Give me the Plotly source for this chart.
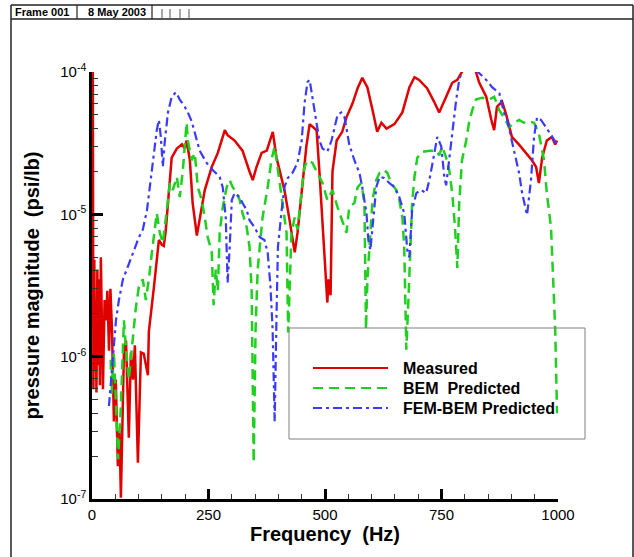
import plotly.graph_objects as go

# ---------------- data ----------------
measured_freq = [1, 1.5, 3, 5, 6.5, 8, 9.5, 11.5, 13, 15, 17, 19, 21.5, 23.5, 27, 30, 33, 36.5, 39.5, 43,
                 47, 51, 55.5, 59, 62, 65, 68.5, 73, 79, 83.5, 88, 92, 98.5, 105, 111, 120, 122, 133, 143.5,
                 150, 154, 158, 163, 171, 182, 193, 199, 203, 210, 216, 225, 231, 242, 257, 270, 285, 291,
                 306, 323, 338, 345, 353, 364, 375, 385, 388, 396, 403, 413, 424, 435, 441, 450, 460, 467,
                 482, 488, 499, 503, 505, 507.5, 512, 516, 525, 537, 546, 559, 570, 580, 591, 602, 612, 621,
                 632, 649, 666, 681, 692, 702, 719, 734, 745, 760, 773, 784, 792, 801, 814, 824, 831, 846,
                 857, 863, 869, 880, 889, 901, 916, 931, 944, 953, 959, 966, 976, 987, 994, 998]
measured_mag = [2e-3, 2.5e-6, 5.9e-7, 4.8e-6, 8.1e-7, 2.5e-6, 5.6e-7, 4.1e-6, 8.7e-7, 3.5e-6, 6.3e-7, 5.0e-6,
                1.3e-6, 5.9e-7, 2.5e-6, 1.8e-6, 2.9e-6, 1.1e-6, 3.0e-6, 1.5e-6,
                3.5e-7, 6.9e-7, 1.7e-7, 3.0e-7, 1.02e-7, 2.6e-7, 1.07e-6, 1.3e-6, 2.7e-7, 1.07e-6, 6.9e-7,
                1.2e-6, 1.8e-7, 1.07e-6, 1.05e-6, 7.4e-7, 1.5e-6, 3.1e-6, 6.6e-6,
                6.1e-6, 6.0e-6, 7.5e-6, 1.26e-5, 2.5e-5, 2.9e-5, 3.1e-5, 2.9e-5, 3.3e-5, 2.4e-5, 1.2e-5,
                7.1e-6, 9.1e-6, 1.48e-5, 2.15e-5, 2.7e-5, 3.9e-5, 3.6e-5,
                3.3e-5, 2.8e-5, 2.0e-5, 1.74e-5, 2.15e-5, 2.7e-5, 2.8e-5, 3.5e-5, 3.8e-5, 2.5e-5, 2.0e-5,
                1.48e-5, 9.1e-6, 5.4e-6, 7.4e-6, 1.41e-5, 3.0e-5, 4.3e-5,
                3.9e-5, 2.0e-5, 5.4e-6, 2.9e-6, 2.4e-6, 3.5e-6, 2.7e-6, 2.0e-5, 3.3e-5, 3.8e-5, 4.8e-5,
                6.0e-5, 7.7e-5, 9.1e-5, 7.8e-5, 5.4e-5, 3.8e-5, 4.4e-5,
                4.0e-5, 4.3e-5, 5.2e-5, 7.8e-5, 9.2e-5, 8.8e-5, 7.7e-5, 6.2e-5, 5.2e-5, 6.7e-5, 8.4e-5,
                8.8e-5, 9.8e-5, 1.1e-4, 1.15e-4, 1.0e-4, 8.4e-5, 6.7e-5,
                4.6e-5, 3.9e-5, 5.7e-5, 6.2e-5, 5.0e-5, 3.5e-5, 3.1e-5, 2.7e-5, 2.4e-5, 2.15e-5, 1.66e-5,
                2.5e-5, 3.3e-5, 3.5e-5, 3.1e-5, 3.3e-5]

bem_freq = [40, 42, 47, 51, 56, 62, 68.5, 73, 79, 88, 94, 100.6, 109, 115.6, 122, 128.5, 135, 139, 145.6,
            152, 160.6, 167, 173.5, 182, 188.4, 195, 203, 205.6, 214, 220.5, 227, 235.5, 242, 248.4, 257,
            261, 265.5, 270, 274, 280.5, 289, 295.5, 302, 310.5, 317, 323, 332, 338, 342.6, 347, 351,
            355.5, 360, 366, 377, 385, 392, 398, 407, 411, 417.5, 421, 424, 428, 435, 441, 450, 456,
            462.5, 473, 484, 494.6, 505, 516, 527, 537, 546, 552, 563, 570, 578, 584.6, 588, 591, 595,
            602, 610, 617, 627, 634, 642, 653, 659.5, 666, 670, 674.5, 679, 683, 687, 692, 698, 709, 724,
            739, 745, 751.6, 760, 766.6, 773, 779, 784, 788, 794, 803, 809, 816, 824, 837, 852, 863, 874,
            884, 895, 906, 916.5, 927, 938, 948.6, 959, 970, 976, 985, 989, 994, 998]
bem_mag = [9.5e-7, 5.5e-7, 1.07e-6, 5.0e-7, 1.9e-7, 4.5e-7, 1.8e-6, 1.12e-6, 6.9e-7, 1.38e-6, 2.2e-6,
           3.1e-6, 3.5e-6, 2.5e-6, 3.5e-6, 5.4e-6, 7.8e-6, 1.02e-5, 7.4e-6,
           6.3e-6, 1.07e-5, 1.66e-5, 1.48e-5, 1.83e-5, 1.32e-5, 2.05e-5, 4.4e-5, 3.3e-5, 2.4e-5, 2.7e-5,
           1.55e-5, 1.26e-5, 9.5e-6, 6.9e-6, 5.4e-6,
           2.3e-6, 4.1e-6, 2.9e-6, 7.4e-6, 1.12e-5, 1.55e-5, 1.74e-5, 1.55e-5, 1.41e-5, 1.26e-5, 1.02e-5,
           8.1e-6, 5.9e-6, 2.9e-6, 1.8e-7, 1.55e-6,
           4.1e-6, 5.9e-6, 9.5e-6, 1.55e-5, 2.4e-5, 3.0e-5, 2.15e-5, 1.41e-5, 1.07e-5, 7.4e-6, 1.48e-6,
           3.5e-6, 7.4e-6, 9.5e-6, 7.8e-6, 1.48e-5, 2.15e-5,
           2.4e-5, 2.3e-5, 1.95e-5, 1.66e-5, 1.26e-5, 1.48e-5, 1.12e-5, 9.1e-6, 7.4e-6, 1.12e-5, 1.2e-5,
           1.55e-5, 1.66e-5, 1.2e-5, 1.55e-6, 3.5e-6, 5.9e-6,
           1.26e-5, 1.74e-5, 1.95e-5, 2.05e-5, 1.95e-5, 1.66e-5, 1.48e-5, 1.26e-5, 9.5e-6, 5.9e-6, 1.12e-6,
           2.5e-6, 6.6e-6, 1.2e-5, 1.83e-5, 2.5e-5, 2.75e-5, 2.8e-5,
           2.8e-5, 2.6e-5, 3.0e-5, 2.5e-5, 2.05e-5, 1.41e-5, 8.1e-6, 4.2e-6, 1.2e-5, 2.4e-5, 3.3e-5, 4.4e-5,
           5.4e-5, 6.4e-5, 6.6e-5, 6.4e-5, 6.7e-5, 5.4e-5,
           4.8e-5, 4.1e-5, 4.4e-5, 4.6e-5, 4.4e-5, 4.5e-5, 4.4e-5, 3.7e-5, 2.4e-5, 1.41e-5, 8.1e-6, 4.1e-6,
           1.55e-6, 4.0e-7]

fem_freq = [36.4, 45, 51.4, 57.8, 66.4, 77, 88, 100.6, 109, 118, 124, 130.6, 139, 143.5, 147.7, 152, 156,
            163, 171, 180, 188.4, 199, 205.6, 214, 220.5, 231, 246, 259, 274, 280.5, 287, 291, 295.5, 300,
            306, 317, 323, 332, 338, 349, 360, 370, 377, 383, 387.6, 392, 396, 399, 407, 413, 420, 430,
            441, 450, 456, 462.5, 467, 473, 482, 488, 494.6, 505, 514, 520, 527, 535, 542, 552, 563, 574,
            580, 589, 593, 597.4, 602, 610, 617, 627, 638, 649, 659.5, 670, 676.6, 681, 687, 696, 706.6,
            717, 724, 734.5, 741, 749.5, 756, 760, 766.6, 773, 781.6, 788, 794.4, 809, 822, 831, 846, 859,
            874, 884, 891, 899, 910, 916.5, 923, 931.5, 933.6, 942, 948.6, 955, 963.6, 974, 985, 996, 998]
fem_mag = [4.5e-7, 1.07e-6, 1.8e-6, 2.5e-6, 3.5e-6, 4.3e-6, 5.4e-6, 6.9e-6, 7.8e-6, 1.07e-5, 1.55e-5,
           2.4e-5, 3.9e-5, 4.6e-5, 3.5e-5, 2.15e-5, 3.2e-5,
           5.2e-5, 6.7e-5, 7.2e-5, 6.4e-5, 5.7e-5, 5.2e-5, 4.5e-5, 3.7e-5, 2.8e-5, 2.3e-5, 2.05e-5, 1.83e-5,
           1.55e-5, 9.5e-6, 3.3e-6, 5.9e-6, 1.26e-5,
           1.41e-5, 1.32e-5, 1.2e-5, 1.07e-5, 9.1e-6, 8.1e-6, 6.9e-6, 6.6e-6, 5.4e-6, 3.1e-6, 1.55e-6,
           3.5e-7, 2.0e-6, 5.9e-6, 1.07e-5, 1.55e-5, 1.8e-5, 1.95e-5,
           2.3e-5, 3.3e-5, 6.0e-5, 8.5e-5, 8.8e-5, 6.7e-5, 4.6e-5, 3.3e-5, 2.9e-5, 2.75e-5, 3.3e-5, 4.1e-5,
           5.0e-5, 5.2e-5, 4.8e-5, 3.1e-5, 2.4e-5, 1.95e-5,
           1.55e-5, 1.02e-5, 6.6e-6, 5.6e-6, 8.1e-6, 1.55e-5, 1.83e-5, 1.8e-5, 1.66e-5, 1.55e-5, 1.32e-5,
           1.02e-5, 5.6e-6, 5.0e-6, 1.07e-5, 1.41e-5, 1.48e-5,
           1.41e-5, 1.74e-5, 2.7e-5, 3.5e-5, 3.0e-5, 1.83e-5, 1.6e-5, 2.4e-5, 3.9e-5, 6.4e-5, 8.8e-5,
           1.02e-4, 1.15e-4, 1.05e-4, 9.8e-5, 8.8e-5, 7.8e-5,
           7.1e-5, 5.2e-5, 4.6e-5, 3.5e-5, 2.5e-5, 1.95e-5, 1.41e-5, 1.07e-5, 9.9e-6, 1.74e-5, 3.5e-5,
           4.8e-5, 4.6e-5, 4.1e-5, 3.6e-5, 3.2e-5, 3.1e-5]

series_names = ["Measured", "BEM\u00a0 Predicted", "FEM-BEM Predicted"]
x_tick_vals = [0, 250, 500, 750, 1000]
x_minor_vals = [50, 100, 150, 200, 300, 350, 400, 450, 550, 600, 650, 700, 800, 850, 900, 950]
y_tick_vals = [1e-7, 1e-6, 1e-5, 1e-4]
y_tick_text = ["10<sup>-7</sup>", "10<sup>-6</sup>", "10<sup>-5</sup>", "10<sup>-4</sup>"]
y_minor_vals = [m * 10.0 ** e for e in (-7, -6, -5) for m in range(2, 10)]
header_texts = ["Frame 001", "8 May 2003"]

# ---------------- styles ----------------
FONT = "Liberation Sans, Arial, Helvetica, sans-serif"
RED, GREEN, BLUE = "#e00000", "#1fd01f", "#3a3aff"
styles = [dict(color=RED, width=2.5, dash="solid"),
          dict(color=GREEN, width=2.5, dash="10px,6px"),
          dict(color=BLUE, width=2.2, dash="9px,4px,3px,4px")]

fig = go.Figure()
for (fx, fy), name, st in zip([(measured_freq, measured_mag), (bem_freq, bem_mag), (fem_freq, fem_mag)],
                              series_names, styles):
    fig.add_trace(go.Scatter(x=fx, y=fy, mode="lines", name=name, line=st, showlegend=False))

# plot area geometry in pixels (for paper-coordinate decorations)
W, H = 634, 557
ML, MR, MT, MB = 92, 76, 72, 58
PW, PH = W - ML - MR, H - MT - MB


def px(x):
    return (x - ML) / PW


def py(y):
    return (H - MB - y) / PH


shapes = []
# outer frame (left, top, right) and header row
frame_col = "#222222"
shapes.append(dict(type="line", xref="paper", yref="paper", x0=px(11), x1=px(633), y0=py(5), y1=py(5),
                   line=dict(color=frame_col, width=1.5)))
shapes.append(dict(type="line", xref="paper", yref="paper", x0=px(11), x1=px(633), y0=py(19), y1=py(19),
                   line=dict(color=frame_col, width=1.5)))
shapes.append(dict(type="line", xref="paper", yref="paper", x0=px(11), x1=px(11), y0=py(5), y1=py(557),
                   line=dict(color=frame_col, width=1.5)))
shapes.append(dict(type="line", xref="paper", yref="paper", x0=px(633), x1=px(633), y0=py(5), y1=py(557),
                   line=dict(color=frame_col, width=1.5)))
for sx in (77, 152):
    shapes.append(dict(type="line", xref="paper", yref="paper", x0=px(sx), x1=px(sx), y0=py(5), y1=py(19),
                       line=dict(color=frame_col, width=1.2)))
for sx in (162, 170, 180, 189):
    shapes.append(dict(type="line", xref="paper", yref="paper", x0=px(sx), x1=px(sx), y0=py(9), y1=py(19),
                       line=dict(color="#555555", width=1)))

# legend box and samples
shapes.append(dict(type="rect", xref="paper", yref="paper", x0=px(289), x1=px(585), y0=py(439), y1=py(328),
                   line=dict(color="#808080", width=1), fillcolor="rgba(255,255,255,0)"))
legend_rows = [368, 388, 408]
annotations = []
for row, name, st in zip(legend_rows, series_names, styles):
    shapes.append(dict(type="line", xref="paper", yref="paper", x0=px(313), x1=px(388), y0=py(row), y1=py(row),
                       line=dict(color=st["color"], width=2, dash=st["dash"])))
    annotations.append(dict(xref="paper", yref="paper", x=px(401), y=py(row), xanchor="left", yanchor="middle",
                            text="<b>%s</b>" % name, showarrow=False,
                            font=dict(family=FONT, size=16, color="black")))

annotations.append(dict(xref="paper", yref="paper", x=px(13), y=py(12), xanchor="left", yanchor="middle",
                        text="<b>%s</b>" % header_texts[0], showarrow=False,
                        font=dict(family=FONT, size=11, color="black")))
annotations.append(dict(xref="paper", yref="paper", x=px(86), y=py(12), xanchor="left", yanchor="middle",
                        text="<b>%s</b>" % header_texts[1], showarrow=False,
                        font=dict(family=FONT, size=11, color="black")))

fig.update_layout(
    width=W, height=H,
    margin=dict(l=ML, r=MR, t=MT, b=MB, pad=0),
    paper_bgcolor="white", plot_bgcolor="white",
    font=dict(family=FONT, color="black"),
    showlegend=False,
    shapes=shapes, annotations=annotations,
    xaxis=dict(range=[0, 1000], tickmode="array", tickvals=x_tick_vals,
               ticks="inside", ticklen=10, tickwidth=2.5, tickcolor="black",
               showline=True, linewidth=2.5, linecolor="black", mirror=False,
               showgrid=False, zeroline=False,
               tickfont=dict(family=FONT, size=15, color="black"),
               minor=dict(tickmode="array", tickvals=x_minor_vals, ticks="inside", ticklen=5,
                          tickwidth=1, tickcolor="#333333", showgrid=False),
               title=dict(text="<b>Frequency\u00a0 (Hz)</b>", standoff=4,
                          font=dict(family=FONT, size=20, color="black"))),
    yaxis=dict(type="log", range=[-7, -4], tickmode="array", tickvals=y_tick_vals, ticktext=y_tick_text,
               ticks="inside", ticklen=11, tickwidth=2.5, tickcolor="black",
               showline=True, linewidth=2.5, linecolor="black", mirror=False,
               showgrid=False, zeroline=False,
               tickfont=dict(family=FONT, size=15, color="black"),
               minor=dict(tickmode="array", tickvals=y_minor_vals, ticks="inside", ticklen=6,
                          tickwidth=1, tickcolor="#333333", showgrid=False),
               title=dict(text="<b>pressure magnitude\u00a0 (psi/lb)</b>", standoff=16,
                          font=dict(family=FONT, size=20, color="black"))),
)

fig.write_html("out.html")
